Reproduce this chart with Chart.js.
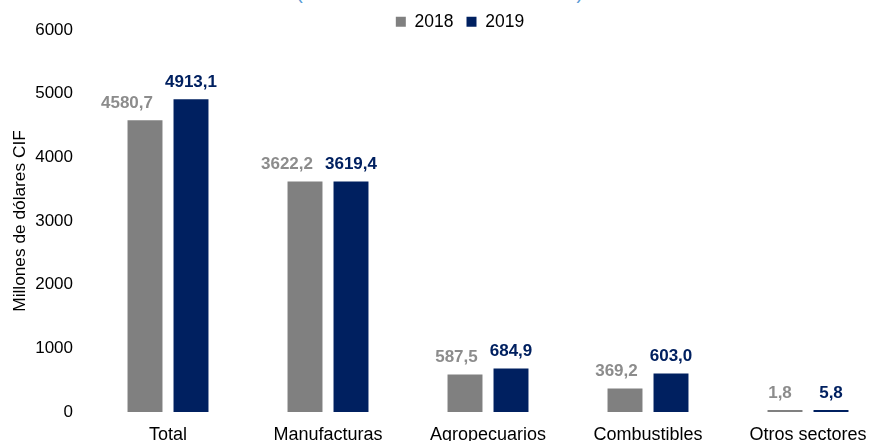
<!DOCTYPE html>
<html>
<head>
<meta charset="utf-8">
<title>Exportaciones por sector</title>
<script src="https://cdn.jsdelivr.net/npm/chart.js@4.4.1/dist/chart.umd.min.js"></script>
<style>
    html, body { margin: 0; padding: 0; background: #fff; overflow: hidden; }
    body { width: 869px; height: 441px; position: relative; font-family: "Liberation Sans", Arial, sans-serif; }
    #wrap { position: absolute; left: 0; top: 0; width: 918px; height: 441px; }
    /* title sits mostly above the frame, only the bracket tails show */
    #cut-title {
        position: absolute; left: 0; width: 879px; top: -17px;
        text-align: center; font-size: 19.4px; line-height: 18px;
        color: #5b9bd5; white-space: nowrap;
    }
</style>
</head>
<body>
<div id="cut-title">(Enero – Diciembre 2018 – 2019)</div>
<div id="wrap"><canvas id="sectorChart"></canvas></div>

<script>
// ── Data ──────────────────────────────────────────────────────────────────────
const categories = ["Total", "Manufacturas", "Agropecuarios", "Combustibles", "Otros sectores"];
const seriesNames = ["2018", "2019"];
const values2018 = [4580.7, 3622.2, 587.5, 369.2, 1.8];
const values2019 = [4913.1, 3619.4, 684.9, 603.0, 5.8];
const yTicks     = [0, 1000, 2000, 3000, 4000, 5000, 6000];

const GRAY = "#808080";
const NAVY = "#002060";
const FONT = "'Liberation Sans', Arial, sans-serif";

// ── Value labels over bars (gray one steps aside when the pair collides) ────
const fmt = v => v.toFixed(1).replace(".", ",");

const barLabels = {
    id: "barLabels",
    afterDatasetsDraw(chart) {
        const ctx = chart.ctx;
        const ds = chart.data.datasets;
        const a = chart.getDatasetMeta(0).data;
        const b = chart.getDatasetMeta(1).data;
        ctx.save();
        ctx.font = `bold 17px ${FONT}`;
        ctx.textAlign = "center";
        ctx.textBaseline = "middle";
        a.forEach((barA, j) => {
            const barB = b[j];
            const tA = fmt(ds[0].data[j]), tB = fmt(ds[1].data[j]);
            const wA = ctx.measureText(tA).width, wB = ctx.measureText(tB).width;
            let xA = barA.x - 5, xB = barB.x;
            const gap = (xB - wB / 2) - (xA + wA / 2);
            if (gap < 12) xA -= (12 - gap);
            ctx.fillStyle = "#8c8c8c";
            ctx.fillText(tA, xA, barA.y - 17);
            ctx.fillStyle = NAVY;
            ctx.fillText(tB, xB, barB.y - 17);
        });
        ctx.restore();
    },
};

// ── Legend: tighter box, nudged to sit where the original one is ────────────
const legendTweak = {
    id: "legendTweak",
    beforeLayout(chart) {
        const lg = chart.legend;
        if (!lg || lg._tweaked) return;
        const fit = lg.fit.bind(lg);
        lg.fit = function () { fit(); this.height = 30; };
        lg._tweaked = true;
    },
    afterLayout(chart) {
        const lg = chart.legend;
        if (!lg) return;
        lg.left += 16;
        lg.right += 16;
    },
};

// ── Chart ─────────────────────────────────────────────────────────────────────
new Chart(document.getElementById("sectorChart"), {
    type: "bar",
    data: {
        labels: categories,
        datasets: [
            { label: seriesNames[0], data: values2018, backgroundColor: GRAY },
            { label: seriesNames[1], data: values2019, backgroundColor: NAVY },
        ],
    },
    options: {
        responsive: true,
        maintainAspectRatio: false,
        animation: false,
        layout: { padding: { top: 0, right: 30, left: 0, bottom: 0 } },
        datasets: {
            bar: { categoryPercentage: 0.575, barPercentage: 0.76, minBarLength: 2 },
        },
        plugins: {
            legend: {
                position: "top",
                labels: { color: "#000", boxWidth: 10, boxHeight: 10, padding: 13, font: { family: FONT, size: 17.5 } },
            },
            tooltip: { enabled: false },
        },
        scales: {
            x: {
                grid: { display: false, drawTicks: false },
                border: { display: false },
                ticks: { color: "#000", padding: 12, maxRotation: 0, font: { family: FONT, size: 18 } },
                afterFit: s => { s.height = 29; },
            },
            y: {
                min: 0,
                max: 6000,
                afterBuildTicks: s => { s.ticks = yTicks.map(v => ({ value: v })); },
                grid: { display: false, drawTicks: false },
                border: { display: false },
                ticks: { color: "#000", padding: 15, font: { family: FONT, size: 17 }, callback: v => String(v) },
                title: {
                    display: true,
                    text: "Millones de dólares CIF",
                    color: "#000",
                    padding: { top: 10, bottom: 0 },
                    font: { family: FONT, size: 17.3 },
                },
                afterFit: s => { s.width = 88; },
            },
        },
    },
    plugins: [barLabels, legendTweak],
});
</script>
</body>
</html>
